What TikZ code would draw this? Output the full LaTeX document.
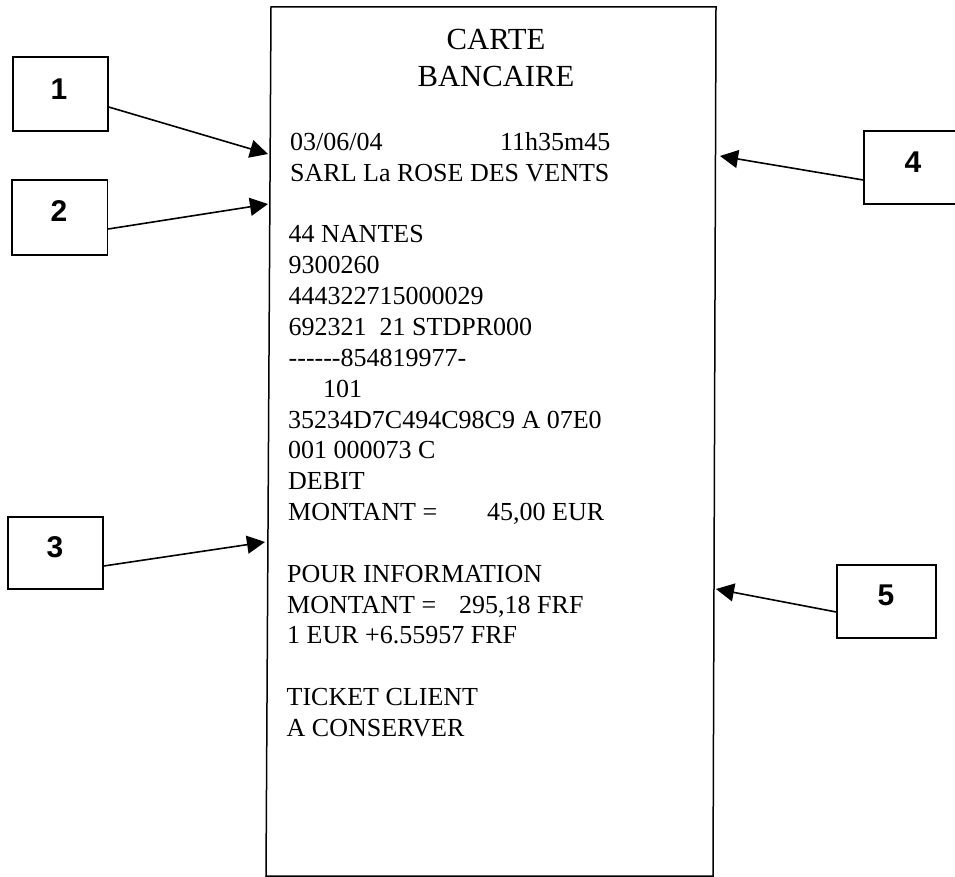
\documentclass[tikz,border=0pt]{standalone}
\usepackage{fontspec}
\setmainfont{Liberation Serif}
\newfontfamily\labfont{Liberation Sans}
\usetikzlibrary{arrows.meta}
\tikzset{
 numbox/.style={draw=black,line width=1.4pt,fill=white,inner sep=0pt},
 numtext/.style={inner sep=0pt,font=\labfont\bfseries\fontsize{30}{32}\selectfont},
 ticket/.style={draw=black,line width=1.5pt,line join=miter},
 rowtext/.style={anchor=base west,inner sep=0pt,font=\fontsize{26}{30}\selectfont,text=black},
 titletext/.style={anchor=base,inner sep=0pt,font=\fontsize{30.7}{36}\selectfont,text=black},
 pointer/.style={line width=1.6pt,-{Triangle[length=18pt,width=18pt]}}
}
\begin{document}
\begin{tikzpicture}[x=1pt,y=-1pt]
\useasboundingbox (0,0) rectangle (955,877);
\coordinate (tl) at (271,7);
\coordinate (tr) at (716,7);
\coordinate (br) at (713,876);
\coordinate (bl) at (266,876);
\draw[ticket] (tl) -- (tr) -- (br) -- (bl) -- cycle;
\node[titletext] (t1) at (496,50) {CARTE};
\node[titletext] (t2) at (496,87) {BANCAIRE};
\node[rowtext] (r1) at (290,150.3) {03/06/04};
\node[rowtext] (r1b) at (500,150.3) {11h35m45};
\node[rowtext] (r2) at (290,181.2) {SARL La ROSE DES VENTS};
\node[rowtext] (r3) at (288.5,242.9) {44 NANTES};
\node[rowtext] (r4) at (288.5,273.7) {9300260};
\node[rowtext] (r5) at (288.5,304.6) {444322715000029};
\node[rowtext] (r6) at (288.5,335.4) {692321\ \ 21 STDPR000};
\node[rowtext] (r7) at (288.5,366.3) {{-}{-}{-}{-}{-}{-}854819977{-}};
\node[rowtext] (r8) at (323,397.1) {101};
\node[rowtext] (r9) at (288,428) {35234D7C494C98C9 A 07E0};
\node[rowtext] (r10) at (288,458.8) {001 000073 C};
\node[rowtext] (r11) at (288,489.7) {DEBIT};
\node[rowtext] (r12) at (288,520.5) {MONTANT =};
\node[rowtext] (r12b) at (487,520.5) {45,00 EUR};
\node[rowtext] (r13) at (287,582.2) {POUR INFORMATION};
\node[rowtext] (r14) at (287,613.1) {MONTANT =};
\node[rowtext] (r14b) at (459,613.1) {295,18 FRF};
\node[rowtext] (r15) at (287,643.9) {1 EUR +6.55957 FRF};
\node[rowtext] (r16) at (286.5,705.6) {TICKET CLIENT};
\node[rowtext] (r17) at (286.5,736.5) {A CONSERVER};
\node[numbox,minimum width=95pt,minimum height=74pt] (b1) at (60.5,94) {};
\node[numbox,minimum width=95.5pt,minimum height=75pt] (b2) at (59.75,217.5) {};
\node[numbox,minimum width=95pt,minimum height=72pt] (b3) at (55.5,553) {};
\node[numbox,minimum width=95pt,minimum height=73pt] (b4) at (911.5,167.5) {};
\node[numbox,minimum width=99pt,minimum height=73pt] (b5) at (886.5,601.5) {};
\node[numtext] (n1) at (59,89.5) {1};
\node[numtext] (n2) at (59,211.5) {2};
\node[numtext] (n3) at (55,547) {3};
\node[numtext] (n4) at (913,162) {4};
\node[numtext] (n5) at (886,595) {5};
\coordinate (a1) at (268,154);
\coordinate (a2) at (268,204);
\coordinate (a3) at (265,542);
\coordinate (a4) at (720,156);
\coordinate (a5) at (716,589);
\draw[pointer] (b1.east |- 0,107) -- (a1);
\draw[pointer] (b2.east |- 0,229) -- (a2);
\draw[pointer] (b3.east |- 0,566) -- (a3);
\draw[pointer] (b4.west |- 0,180) -- (a4);
\draw[pointer] (b5.west |- 0,612) -- (a5);
\end{tikzpicture}
\end{document}
